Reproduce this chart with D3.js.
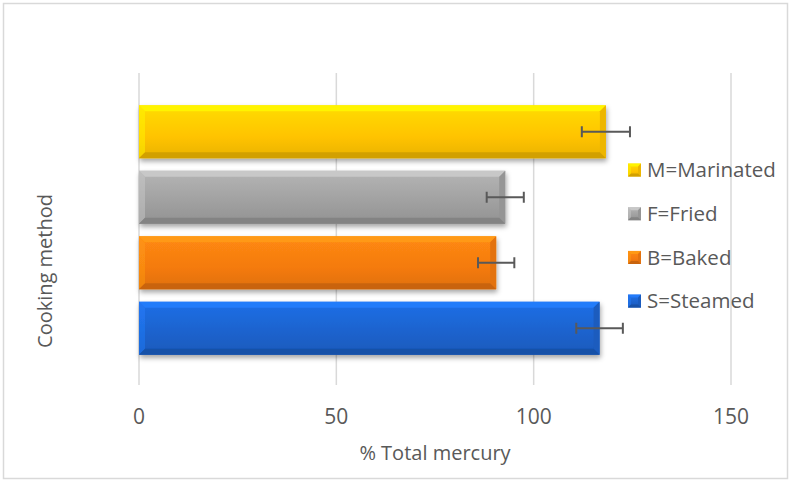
<!DOCTYPE html>
<html>
<head>
<meta charset="utf-8">
<title>Cooking method</title>
<script src="https://d3js.org/d3.v7.min.js"></script>
<style>
  body { margin: 0; background: #fff; }
  text { font-family: "Open Sans", sans-serif; fill: #595959; }
</style>
</head>
<body>
<script>
// chart data
var methods = ["M=Marinated", "F=Fried", "B=Baked", "S=Steamed"];
var values  = [118.3, 92.8, 90.5, 116.7];
var errors  = [6.1, 4.7, 4.6, 5.9];
var colors  = ["#FFC300", "#A0A0A0", "#F47A10", "#1C62CC"];
var xTicks  = [0, 50, 100, 150];

var width = 792, height = 483;

var svg = d3.select("body").append("svg")
  .attr("width", width)
  .attr("height", height);

// outer frame
svg.append("rect")
  .attr("x", 3.5).attr("y", 3.5)
  .attr("width", 784).attr("height", 475)
  .attr("fill", "#fff")
  .attr("stroke", "#d9d9d9")
  .attr("stroke-width", 1.5);

var x = d3.scaleLinear().domain([0, 150]).range([139, 731]);
var y = d3.scaleBand().domain(methods).range([99, 361])
  .paddingInner(0.19).paddingOuter(0.095);

var defs = svg.append("defs");
defs.append("filter").attr("id", "shadow")
  .attr("x", "-5%").attr("y", "-20%").attr("width", "110%").attr("height", "150%")
  .append("feDropShadow")
  .attr("dx", 1).attr("dy", 3).attr("stdDeviation", 2.5)
  .attr("flood-color", "#000").attr("flood-opacity", 0.35);

colors.forEach(function(c, i) {
  var g = defs.append("linearGradient").attr("id", "grad" + i)
    .attr("x1", 0).attr("y1", 0).attr("x2", 0).attr("y2", 1);
  g.append("stop").attr("offset", "0%").attr("stop-color", d3.color(c).brighter(0.35));
  g.append("stop").attr("offset", "60%").attr("stop-color", c);
  g.append("stop").attr("offset", "100%").attr("stop-color", d3.color(c).darker(0.25));
});

// gridlines
svg.append("g").selectAll("line")
  .data(xTicks)
  .join("line")
  .attr("x1", d => x(d)).attr("x2", d => x(d))
  .attr("y1", 73).attr("y2", 385)
  .attr("stroke", "#d9d9d9")
  .attr("stroke-width", 1.5);

// tick labels
svg.append("g").selectAll("text")
  .data(xTicks)
  .join("text")
  .attr("x", d => x(d))
  .attr("y", 424)
  .attr("text-anchor", "middle")
  .attr("font-size", "21px")
  .text(d => d);

// beveled bar helper
function bevel(g, x0, y0, w, h, c, idx, b) {
  var light = d3.color(c).brighter(0.7).formatHex();
  var dark = d3.color(c).darker(0.55).formatHex();
  var mid = d3.color(c).darker(0.2).formatHex();
  g.append("rect").attr("x", x0).attr("y", y0).attr("width", w).attr("height", h)
    .attr("fill", "url(#grad" + idx + ")");
  // top edge
  g.append("path").attr("fill", light).attr("opacity", 0.8)
    .attr("d", "M" + x0 + "," + y0 + "L" + (x0 + w) + "," + y0 + "L" + (x0 + w - b) + "," + (y0 + b) + "L" + (x0 + b) + "," + (y0 + b) + "Z");
  // left edge
  g.append("path").attr("fill", light).attr("opacity", 0.45)
    .attr("d", "M" + x0 + "," + y0 + "L" + (x0 + b) + "," + (y0 + b) + "L" + (x0 + b) + "," + (y0 + h - b) + "L" + x0 + "," + (y0 + h) + "Z");
  // right edge
  g.append("path").attr("fill", mid)
    .attr("d", "M" + (x0 + w) + "," + y0 + "L" + (x0 + w) + "," + (y0 + h) + "L" + (x0 + w - b) + "," + (y0 + h - b) + "L" + (x0 + w - b) + "," + (y0 + b) + "Z");
  // bottom edge
  g.append("path").attr("fill", dark)
    .attr("d", "M" + x0 + "," + (y0 + h) + "L" + (x0 + w) + "," + (y0 + h) + "L" + (x0 + w - b) + "," + (y0 + h - b) + "L" + (x0 + b) + "," + (y0 + h - b) + "Z");
}

// bars
var bars = svg.append("g");
methods.forEach(function(m, i) {
  var g = bars.append("g").attr("filter", "url(#shadow)");
  bevel(g, x(0), y(m), x(values[i]) - x(0), y.bandwidth(), colors[i], i, 6);
});

// error bars
var eb = svg.append("g").attr("stroke", "#595959").attr("stroke-width", 2);
methods.forEach(function(m, i) {
  var cy = y(m) + y.bandwidth() / 2;
  var lo = x(values[i] - errors[i]), hi = x(values[i] + errors[i]);
  eb.append("line").attr("x1", lo).attr("x2", hi).attr("y1", cy).attr("y2", cy);
  eb.append("line").attr("x1", lo).attr("x2", lo).attr("y1", cy - 5.5).attr("y2", cy + 5.5);
  eb.append("line").attr("x1", hi).attr("x2", hi).attr("y1", cy - 5.5).attr("y2", cy + 5.5);
});

// legend
var legend = svg.append("g");
methods.forEach(function(m, i) {
  var ly = 170 + i * 43.7;
  var g = legend.append("g");
  bevel(g, 628, ly - 6.5, 13, 13, colors[i], i, 3);
  legend.append("text")
    .attr("x", 647).attr("y", ly)
    .attr("dy", "0.35em")
    .attr("font-size", "20.5px")
    .text(m);
});

// axis titles
svg.append("text")
  .attr("x", 435).attr("y", 460)
  .attr("text-anchor", "middle")
  .attr("font-size", "20px")
  .text("% Total mercury");

svg.append("text")
  .attr("transform", "translate(52,271) rotate(-90)")
  .attr("text-anchor", "middle")
  .attr("font-size", "20px")
  .text("Cooking method");
</script>
</body>
</html>
